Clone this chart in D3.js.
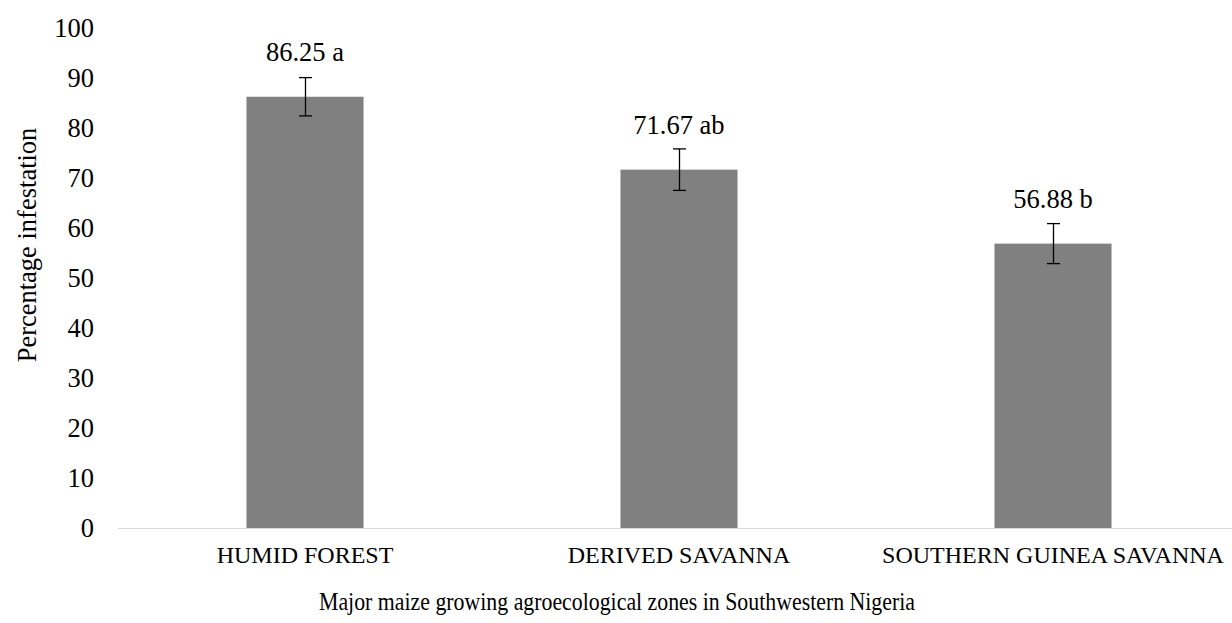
<!DOCTYPE html>
<html>
<head>
<meta charset="utf-8">
<script src="https://cdn.jsdelivr.net/npm/d3@7"></script>
<style>
  html, body { margin: 0; padding: 0; background: #fff; }
</style>
</head>
<body>
<svg id="chart" width="1232" height="623"></svg>
<script>
// Percentage infestation by agroecological zone
const zones = ["HUMID FOREST", "DERIVED SAVANNA", "SOUTHERN GUINEA SAVANNA"];
const infestation = [86.25, 71.67, 56.88];
const stdError = [3.83, 4.15, 4.0];
const letters = ["a", "ab", "b"];
const yTicks = [0, 10, 20, 30, 40, 50, 60, 70, 80, 90, 100];

const FONT = "'Liberation Serif', 'Times New Roman', serif";

const svg = d3.select("#chart");
const plot = { left: 118, right: 1240, top: 28, bottom: 528 };

const x = d3.scaleBand()
  .domain(zones)
  .range([plot.left, plot.right])
  .paddingInner(0.687)
  .paddingOuter(0.3435);

const y = d3.scaleLinear()
  .domain([0, 100])
  .range([plot.bottom, plot.top]);

// y tick labels (no axis line, no gridlines)
const yAxis = d3.axisLeft(y).tickValues(yTicks).tickSize(0).tickPadding(24);
const gy = svg.append("g")
  .attr("transform", `translate(${plot.left},0)`)
  .call(yAxis)
  .attr("font-family", null)
  .attr("font-size", null);
gy.select(".domain").remove();
gy.selectAll("text")
  .style("font-family", FONT)
  .style("font-size", "26.5px")
  .attr("fill", "#000");

// bars
svg.append("g").selectAll("rect")
  .data(zones)
  .join("rect")
  .attr("x", d => x(d))
  .attr("width", x.bandwidth())
  .attr("y", (d, i) => y(infestation[i]))
  .attr("height", (d, i) => y(0) - y(infestation[i]))
  .attr("fill", "#808080");

// baseline
svg.append("line")
  .attr("x1", plot.left).attr("x2", 1232)
  .attr("y1", y(0) + 0.5).attr("y2", y(0) + 0.5)
  .attr("stroke", "#d9d9d9").attr("stroke-width", 1);

// error bars
const err = svg.append("g").attr("stroke", "#000").attr("stroke-width", 1.3);
zones.forEach((z, i) => {
  const cx = Math.round(x(z) + x.bandwidth() / 2) + 0.5;
  const hi = y(infestation[i] + stdError[i]);
  const lo = y(infestation[i] - stdError[i]);
  err.append("line").attr("x1", cx).attr("x2", cx).attr("y1", hi).attr("y2", lo);
  err.append("line").attr("x1", cx - 6.5).attr("x2", cx + 6.5).attr("y1", hi).attr("y2", hi);
  err.append("line").attr("x1", cx - 6.5).attr("x2", cx + 6.5).attr("y1", lo).attr("y2", lo);
});

// value labels with significance letters
svg.append("g").selectAll("text")
  .data(zones)
  .join("text")
  .attr("x", d => x(d) + x.bandwidth() / 2)
  .attr("y", (d, i) => y(infestation[i]) - 36)
  .attr("text-anchor", "middle")
  .style("font-family", FONT)
  .style("font-size", "26.5px")
  .text((d, i) => `${infestation[i].toFixed(2)} ${letters[i]}`);

// category labels
svg.append("g").selectAll("text")
  .data(zones)
  .join("text")
  .attr("x", d => x(d) + x.bandwidth() / 2)
  .attr("y", 563)
  .attr("text-anchor", "middle")
  .style("font-family", FONT)
  .style("font-size", "24px")
  .text(d => d);

// axis titles
svg.append("text")
  .attr("x", 617)
  .attr("y", 610)
  .attr("text-anchor", "middle")
  .attr("textLength", 596)
  .attr("lengthAdjust", "spacingAndGlyphs")
  .style("font-family", FONT)
  .style("font-size", "25px")
  .text("Major maize growing agroecological zones in Southwestern Nigeria");

svg.append("text")
  .attr("transform", `translate(36,245) rotate(-90)`)
  .attr("text-anchor", "middle")
  .style("font-family", FONT)
  .style("font-size", "26.5px")
  .text("Percentage infestation");
</script>
</body>
</html>
